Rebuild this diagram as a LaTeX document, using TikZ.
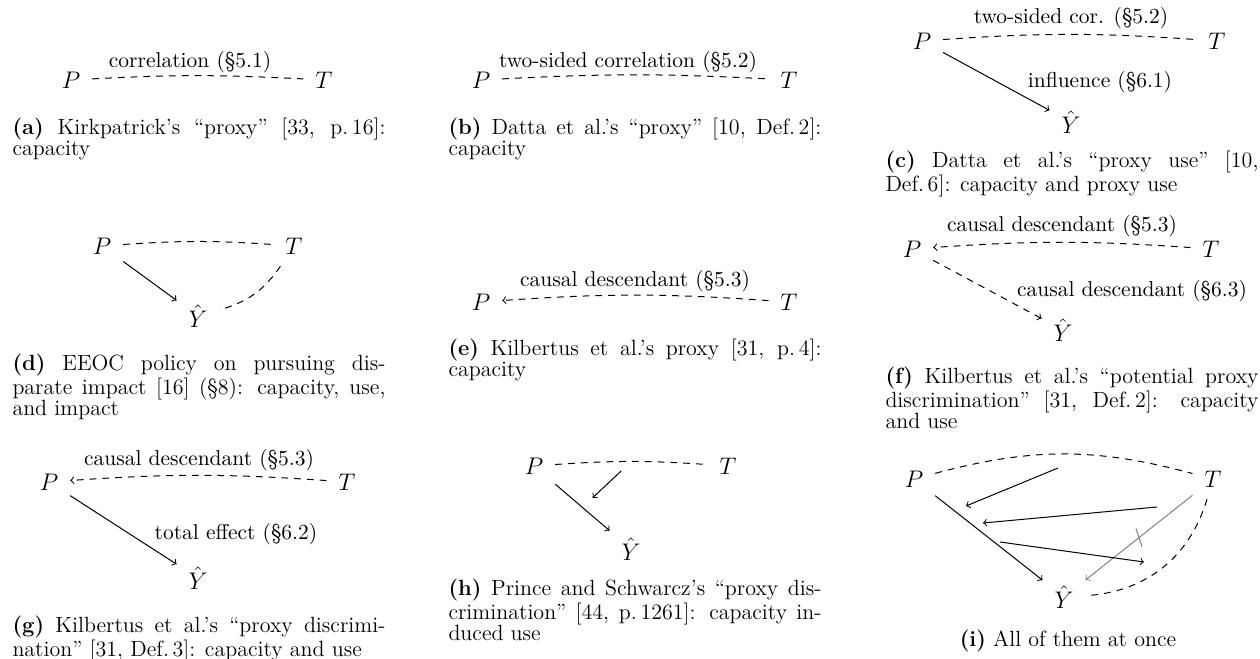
\documentclass[tikz,border=0pt]{standalone}
\usetikzlibrary{calc}
\tikzset{
  vtx/.style={inner sep=1pt, outer sep=5pt, font=\fontsize{12.9}{15}\selectfont},
  lbl/.style={inner sep=0pt, anchor=base, font=\fontsize{10.75}{12}\selectfont},
  captxt/.style={inner sep=0pt, anchor=base west},
  cor/.style={dash pattern=on 3.4pt off 3pt},
  every path/.style={line width=0.5pt},
}
\newcommand{\capbox}[1]{\parbox[t]{186.5pt}{\fontsize{11}{10.7}\selectfont #1}}
\begin{document}
\begin{tikzpicture}[x=0.5pt,y=0.5pt]
\useasboundingbox (0,0) rectangle (1260,-659);
% (a)
\node[vtx] (Pa) at (71,-80) {$P$};
\node[vtx] (Ta) at (324,-80) {$T$};
\draw[cor] (Pa) to[bend left=3] (Ta);
\node[lbl] (la) at (190,-67) {correlation (§5.1)};
\node[captxt] (ca) at (12,-134) {\capbox{\textbf{(a)} Kirkpatrick’s “proxy” [33, p.\,16]:\linebreak capacity}};
% (b)
\node[vtx] (Pb) at (481,-80) {$P$};
\node[vtx] (Tb) at (789,-80) {$T$};
\draw[cor] (Pb) to[bend left=3] (Tb);
\node[lbl] (lb) at (628,-67) {two-sided correlation (§5.2)};
\node[captxt] (cb) at (448,-134) {\capbox{\textbf{(b)} Datta et al.’s “proxy” [10, Def.\,2]:\linebreak capacity}};
% (c)
\node[vtx] (Pc) at (922,-41) {$P$};
\node[vtx] (Tc) at (1217,-41) {$T$};
\node[vtx] (Yc) at (1071,-122) {$\hat{Y}$};
\draw[cor] (Pc) to[bend left=4] (Tc);
\draw[->] (Pc) -- (Yc);
\node[lbl] (lc1) at (1071,-23) {two-sided cor. (§5.2)};
\node[lbl] (lc2) at (1100,-87) {influence (§6.1)};
\node[captxt] (cc) at (885,-167) {\capbox{\textbf{(c)} Datta et al.’s “proxy use” [10,\linebreak Def.\,6]: capacity and proxy use}};
% (d)
\node[vtx] (Pd) at (102,-246) {$P$};
\node[vtx] (Td) at (294,-246) {$T$};
\node[vtx] (Yd) at (198,-316) {$\hat{Y}$};
\draw[cor] (Pd) to[bend left=4] (Td);
\draw[->] (Pd) -- (Yd);
\draw[cor] (Td) to[bend left=20] (Yd);
\node[captxt] (cd) at (12,-370) {\capbox{\textbf{(d)} EEOC policy on pursuing dis-\linebreak parate impact [16] (§8): capacity, use,\linebreak and impact}};
% (e)
\node[vtx] (Pe) at (481,-302) {$P$};
\node[vtx] (Te) at (789,-302) {$T$};
\draw[cor,->] (Te) to[bend right=4] (Pe);
\node[lbl] (le) at (635,-286) {causal descendant (§5.3)};
\node[captxt] (ce) at (448,-355) {\capbox{\textbf{(e)} Kilbertus et al.’s proxy [31, p.\,4]:\linebreak capacity}};
% (f)
\node[vtx] (Pf) at (912,-249) {$P$};
\node[vtx] (Tf) at (1211,-249) {$T$};
\node[vtx] (Yf) at (1063,-330) {$\hat{Y}$};
\draw[cor,->] (Tf) to[bend right=4] (Pf);
\draw[cor,->] (Pf) -- (Yf);
\node[lbl] (lf1) at (1062,-231) {causal descendant (§5.3)};
\node[lbl] (lf2) at (1132,-296) {causal descendant (§6.3)};
\node[captxt] (cf) at (885,-383) {\capbox{\textbf{(f)} Kilbertus et al.’s “potential proxy\linebreak discrimination” [31, Def.\,2]: capacity\linebreak and use}};
% (g)
\node[vtx] (Pg) at (49,-482) {$P$};
\node[vtx] (Tg) at (347,-482) {$T$};
\node[vtx] (Yg) at (198,-578) {$\hat{Y}$};
\draw[cor,->] (Tg) to[bend right=4] (Pg);
\draw[->] (Pg) -- (Yg);
\node[lbl] (lg1) at (199,-465) {causal descendant (§5.3)};
\node[lbl] (lg2) at (236,-539) {total effect (§6.2)};
\node[captxt] (cg) at (12,-632) {\capbox{\textbf{(g)} Kilbertus et al.’s “proxy discrimi-\linebreak nation” [31, Def.\,3]: capacity and use}};
% (h)
\node[vtx] (Ph) at (534,-466) {$P$};
\node[vtx] (Th) at (728,-466) {$T$};
\node[vtx] (Yh) at (631,-549) {$\hat{Y}$};
\draw[cor] (Ph) to[bend left=4] coordinate[pos=0.5] (mh1) (Th);
\draw[->] (Ph) -- coordinate[pos=0.5] (mh2) (Yh);
\draw[->, shorten <=7pt, shorten >=7pt] (mh1) -- (mh2);
\node[captxt] (ch) at (448,-595) {\capbox{\textbf{(h)} Prince and Schwarcz’s “proxy dis-\linebreak crimination” [44, p.\,1261]: capacity in-\linebreak duced use}};
% (i)
\node[vtx] (Pi) at (914,-479) {$P$};
\node[vtx] (Ti) at (1213,-479) {$T$};
\node[vtx] (Yi) at (1064,-597) {$\hat{Y}$};
\draw[cor] (Pi) to[bend left=15] (Ti);
\draw[->] (Pi) -- (Yi);
\draw[cor] (Ti) to[bend left=35] (Yi);
\draw[gray,->] (Ti) -- coordinate[pos=0.5] (mi) (Yi);
\draw[gray] ($(mi)+(-3,9)$) -- ($(mi)+(3,-9)$);
\coordinate (i1s) at (1058,-468);
\coordinate (i1e) at (966,-506);
\coordinate (i2s) at (1157,-507);
\coordinate (i2e) at (983,-523);
\coordinate (i3s) at (1000,-542);
\coordinate (i3e) at (1144,-562);
\draw[->] (i1s) -- (i1e);
\draw[->] (i2s) -- (i2e);
\draw[->] (i3s) -- (i3e);
\node[lbl, font=\fontsize{11}{12}\selectfont] (ci) at (1068,-646) {\textbf{(i)} All of them at once};
\end{tikzpicture}
\end{document}
